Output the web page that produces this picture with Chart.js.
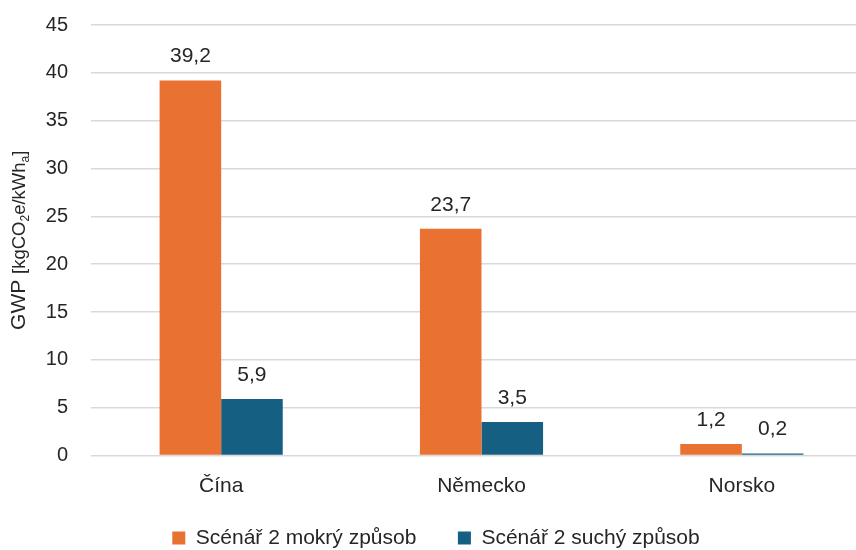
<!DOCTYPE html>
<html>
<head>
<meta charset="utf-8">
<script src="https://cdn.jsdelivr.net/npm/chart.js@4"></script>
<style>
  html, body { margin: 0; padding: 0; background: #fff; overflow: hidden; }
  #wrap { width: 872px; height: 550px; }
</style>
</head>
<body>
<div id="wrap"><canvas id="graf"></canvas></div>
<script>
var zeme = ['Čína', 'Německo', 'Norsko']
var mokry = [39.2, 23.7, 1.2]
var suchy = [5.9, 3.5, 0.2]
var nazvySerii = ['Scénář 2 mokrý způsob', 'Scénář 2 suchý způsob']
var osaY = { min: 0, max: 45, krok: 5 }

var barvaText = '#262626'
var pismo = "'Liberation Sans', Arial, sans-serif"

// popisky hodnot nad sloupci (carka jako desetinny oddelovac)
var popiskyPlugin = {
  id: 'popisky',
  afterDatasetsDraw(chart) {
    var ctx = chart.ctx
    ctx.save()
    ctx.font = '21px ' + pismo
    ctx.fillStyle = barvaText
    ctx.textAlign = 'center'
    ctx.textBaseline = 'middle'
    chart.data.datasets.forEach(function (ds, i) {
      chart.getDatasetMeta(i).data.forEach(function (bar, j) {
        ctx.fillText(ds.data[j].toFixed(1).replace('.', ','), bar.x, bar.y - 24)
      })
    })
    ctx.restore()
  }
}

// nazev osy Y s dolnimi indexy
var titulekPlugin = {
  id: 'titulekY',
  afterDraw(chart) {
    var ctx = chart.ctx
    var casti = [
      { t: 'GWP ', f: 21, dy: 0 },
      { t: '[kgCO', f: 18.5, dy: 0 },
      { t: '2', f: 12, dy: 4 },
      { t: 'e/kWh', f: 18.5, dy: 0 },
      { t: 'a', f: 12, dy: 4 },
      { t: ']', f: 18.5, dy: 0 }
    ]
    ctx.save()
    var sirka = 0
    casti.forEach(function (c) {
      ctx.font = c.f + 'px ' + pismo
      c.w = ctx.measureText(c.t).width
      sirka += c.w
    })
    var stred = (chart.chartArea.top + chart.chartArea.bottom) / 2
    ctx.translate(25, stred)
    ctx.rotate(-Math.PI / 2)
    ctx.fillStyle = barvaText
    ctx.textBaseline = 'alphabetic'
    var x = -sirka / 2
    casti.forEach(function (c) {
      ctx.font = c.f + 'px ' + pismo
      ctx.fillText(c.t, x, c.dy)
      x += c.w
    })
    ctx.restore()
  }
}

new Chart(document.getElementById('graf'), {
  type: 'bar',
  data: {
    labels: zeme,
    datasets: [{
      label: nazvySerii[0],
      data: mokry,
      backgroundColor: '#E97132',
      barPercentage: 1,
      categoryPercentage: 0.473
    }, {
      label: nazvySerii[1],
      data: suchy,
      backgroundColor: '#156082',
      barPercentage: 1,
      categoryPercentage: 0.473
    }]
  },
  options: {
    responsive: true,
    maintainAspectRatio: false,
    animation: false,
    layout: { padding: { top: 25, right: 0, bottom: -8.5, left: 0 } },
    plugins: {
      tooltip: { enabled: false },
      legend: {
        position: 'bottom',
        labels: {
          boxWidth: 13,
          boxHeight: 13,
          padding: 31,
          color: barvaText,
          font: { size: 21, family: pismo },
          generateLabels: function (chart) {
            var polozky = Chart.defaults.plugins.legend.labels.generateLabels(chart)
            // vetsi mezera mezi polozkami legendy
            polozky[0].text += '\u2002'
            return polozky
          }
        }
      }
    },
    scales: {
      x: {
        grid: { display: false, drawTicks: false },
        border: { display: false },
        ticks: { color: barvaText, padding: 18, font: { size: 21, family: pismo } },
        afterFit: function (scale) { scale.height = 41 }
      },
      y: {
        min: osaY.min,
        max: osaY.max,
        border: { display: false },
        // neviditelne znacky posunou popisky doleva bez zvetseni horniho okraje
        grid: { color: '#d9d9d9', lineWidth: 1.5, tickLength: 20, tickColor: 'rgba(0,0,0,0)' },
        ticks: { stepSize: osaY.krok, color: barvaText, padding: 3, font: { size: 20, family: pismo } },
        afterFit: function (scale) { scale.width = 91 }
      }
    }
  },
  plugins: [popiskyPlugin, titulekPlugin]
})
</script>
</body>
</html>
